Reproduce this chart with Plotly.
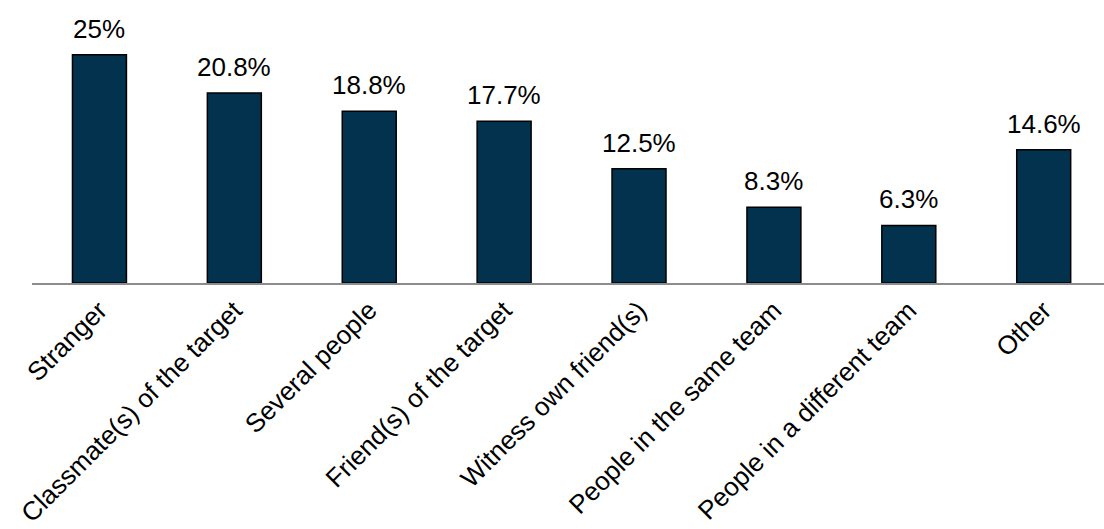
import plotly.graph_objects as go

categories = ["Stranger", "Classmate(s) of the target", "Several people",
              "Friend(s) of the target", "Witness own friend(s)",
              "People in the same team", "People in a different team", "Other"]
values = [25, 20.8, 18.8, 17.7, 12.5, 8.3, 6.3, 14.6]
labels = ["25%", "20.8%", "18.8%", "17.7%", "12.5%", "8.3%", "6.3%", "14.6%"]

FONT = "Liberation Sans, Arial, sans-serif"

fig = go.Figure()
fig.add_trace(go.Bar(
    x=categories, y=values, width=0.4,
    marker=dict(color="#03324F", line=dict(color="#000000", width=1.5)),
    hoverinfo="skip",
))

for c, v, t in zip(categories, values, labels):
    fig.add_annotation(x=c, y=v, text=t, showarrow=False, yanchor="bottom",
                       yshift=9, font=dict(family=FONT, size=26, color="#000000"))

fig.update_layout(
    width=1104, height=529,
    margin=dict(l=32, r=0, t=9, b=246, autoexpand=False),
    plot_bgcolor="white", paper_bgcolor="white",
    showlegend=False,
    font=dict(family=FONT, size=26, color="#000000"),
)
fig.update_xaxes(range=[-0.5, 7.447], showline=True, linecolor="#8c8c8c", linewidth=1.5,
                 tickangle=-45, ticks="", showgrid=False,
                 automargin=False,
                 tickfont=dict(family=FONT, size=26, color="#000000"))
fig.update_yaxes(range=[0, 30], visible=False, showgrid=False, zeroline=False,
                 automargin=False)

fig.write_html("out.html")
